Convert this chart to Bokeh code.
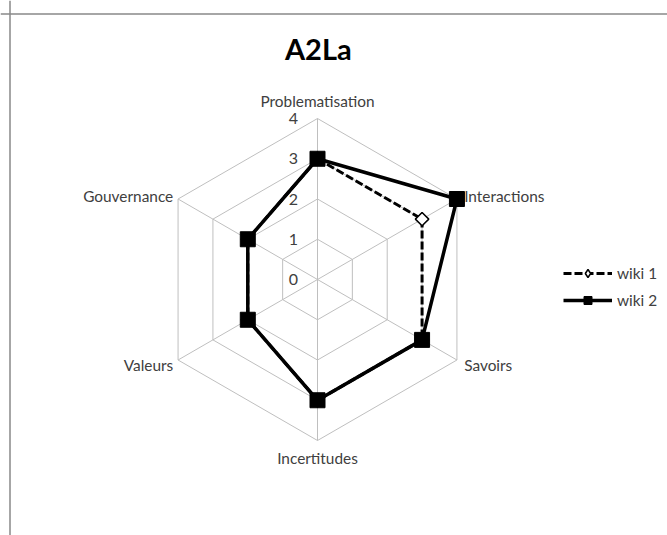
import math
from bokeh.plotting import figure
from bokeh.models import Range1d, Span, Legend, LegendItem, Label
from bokeh.core.properties import value
from bokeh.embed import file_html
from bokeh.resources import INLINE

# ---- data ----
title_text = "A2La"
categories = ["Problematisation", "Interactions", "Savoirs", "Incertitudes", "Valeurs", "Gouvernance"]
wiki1 = [3, 3, 3, 3, 2, 2]
wiki2 = [3, 4, 3, 3, 2, 2]
series_names = ["wiki 1", "wiki 2"]
tick_values = [0, 1, 2, 3, 4]
r_max = 4

FONT = "Lato"
W, H = 667, 535
s = 40.25          # pixels per value unit
cx, cy = 317, 279  # centre in figure pixels

x0 = -cx / s
x1 = (W - cx) / s
y1 = cy / s
y0 = -(H - cy) / s

p = figure(width=W, height=H, output_backend="svg", toolbar_location=None,
           x_range=Range1d(x0, x1), y_range=Range1d(y0, y1),
           min_border=0, outline_line_color=None, background_fill_color="white",
           border_fill_color="white")
p.xaxis.visible = False
p.yaxis.visible = False
p.grid.visible = False

n = len(categories)
angles = [math.pi / 2 - 2 * math.pi * i / n for i in range(n)]

# grid hexagons and spokes
grid_col = "#BFBFBF"
hx, hy = [], []
for t in tick_values[1:]:
    hx.append([t * math.cos(a) for a in angles] + [t * math.cos(angles[0])])
    hy.append([t * math.sin(a) for a in angles] + [t * math.sin(angles[0])])
p.multi_line(hx, hy, line_color=grid_col, line_width=1)
p.segment([0] * n, [0] * n, [r_max * math.cos(a) for a in angles],
          [r_max * math.sin(a) for a in angles], line_color=grid_col, line_width=1)

# tick labels
p.text(x=[-0.6] * len(tick_values), y=tick_values, text=[str(t) for t in tick_values],
       text_font=value(FONT), text_font_size="16px", text_color="#404040",
       text_align="center", text_baseline="middle")

# category labels
lx, ly, la = [], [], []
for a in angles:
    c, sn = math.cos(a), math.sin(a)
    if abs(c) < 1e-6:
        lx.append(0)
        ly.append((r_max + 0.44) * (1 if sn > 0 else -1))
        la.append("center")
    else:
        lx.append(r_max * c + (0.18 if c > 0 else -0.12))
        ly.append(r_max * sn + (0.08 if sn > 0 else -0.12))
        la.append("left" if c > 0 else "right")
p.text(x=lx, y=ly, text=categories, text_font=value(FONT), text_font_size="15.4px",
       text_color="#404040", text_align=la, text_baseline="middle")

def poly(vals):
    xs = [v * math.cos(a) for v, a in zip(vals, angles)]
    ys = [v * math.sin(a) for v, a in zip(vals, angles)]
    return xs, ys

x1s, y1s = poly(wiki1)
x2s, y2s = poly(wiki2)

l1 = p.line(x1s + [x1s[0]], y1s + [y1s[0]], line_color="black", line_width=3, line_dash="8 3")
# diamond glyph used for the legend (sits hidden beneath the rotated-square markers)
m1_leg = p.scatter(x1s, y1s, marker="diamond", size=13,
                   fill_color="white", line_color="black", line_width=1.5)
m1 = p.scatter(x1s, y1s, marker="square", angle=math.pi / 4, size=9.5,
               fill_color="white", line_color="black", line_width=1.5)
l2 = p.line(x2s + [x2s[0]], y2s + [y2s[0]], line_color="black", line_width=3.5)
m2 = p.scatter(x2s, y2s, marker="square", size=15, fill_color="black", line_color="black")

legend = Legend(items=[LegendItem(label=series_names[0], renderers=[l1, m1_leg]),
                       LegendItem(label=series_names[1], renderers=[l2, m2])],
                location=(563, 225), orientation="vertical",
                glyph_width=49, glyph_height=20, label_height=20, spacing=7,
                padding=0, margin=0, border_line_color=None, background_fill_alpha=0,
                label_text_font=FONT, label_text_font_size="15.4px", label_text_color="#404040",
                label_standoff=5)
p.add_layout(legend, "center")

# title
p.add_layout(Label(x=0.02, y=(cy - 48) / s, text=title_text, text_font=FONT,
                   text_font_size="29px", text_font_style="bold", text_color="black",
                   text_align="center", text_baseline="middle"))

# chart border (left and top edges visible)
p.add_layout(Span(location=x0 + 9.5 / s, dimension="height", line_color="#888888", line_width=1.5))
p.add_layout(Span(location=y1 - 13.5 / s, dimension="width", line_color="#888888", line_width=1.5))

open("out.html", "w").write(file_html(p, INLINE))
